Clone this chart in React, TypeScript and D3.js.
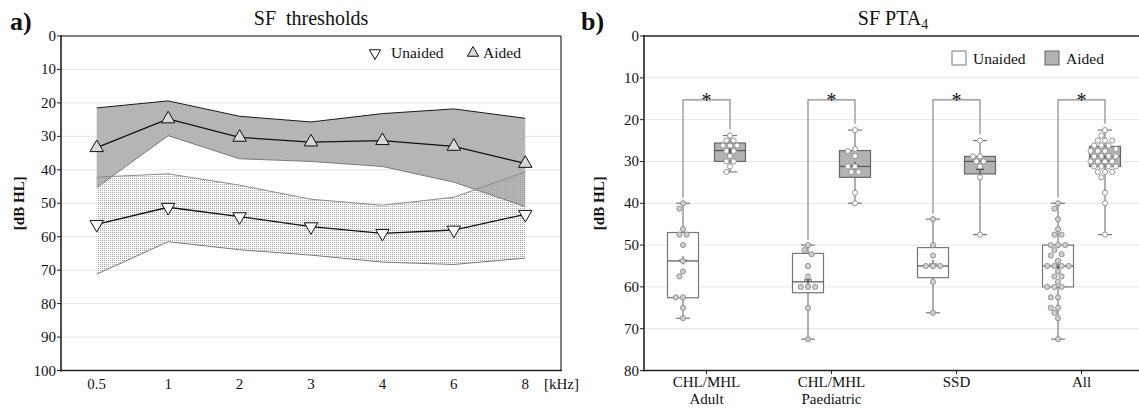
import React, { useEffect, useRef } from "react";
import * as d3 from "d3";

// ---- panel a) SF thresholds ----
const freqs = ["0.5", "1", "2", "3", "4", "6", "8"];
const aidedMean = [33.4, 24.8, 30.3, 31.7, 31.3, 33.0, 38.1];
const aidedUpper = [21.5, 19.4, 24.0, 25.7, 23.2, 21.8, 24.6];
const aidedLower = [45.3, 29.8, 36.7, 37.5, 39.0, 43.7, 51.0];
const unaidedMean = [56.3, 51.2, 54.0, 57.0, 59.0, 58.0, 53.3];
const unaidedUpper = [42.2, 41.2, 44.6, 48.8, 50.6, 48.2, 40.6];
const unaidedLower = [71.2, 61.5, 63.9, 65.5, 67.6, 68.3, 66.4];
const yTicksA = [0, 10, 20, 30, 40, 50, 60, 70, 80, 90, 100];

// ---- panel b) SF PTA4 ----
const groups = ["Adult", "Paediatric", "SSD", "All"];
const groupLabels = [["CHL/MHL", "Adult"], ["CHL/MHL", "Paediatric"], ["SSD"], ["All"]];
const adultUnaided = [40, 41.3, 46.2, 47.5, 47.5, 50, 53.8, 56.3, 57.5, 62.5, 62.5, 65, 67.5];
const paedUnaided = [50, 51.2, 52.2, 55, 57.5, 60, 60, 60, 65, 72.5];
const ssdUnaided = [43.8, 50, 52.5, 55, 55, 55, 58.8, 66.2];
const adultAided = [23.8, 25, 25, 26.2, 26.2, 26.2, 27.5, 27.5, 28.7, 30, 30, 31.2, 32.5];
const paedAided = [22.5, 27, 27.5, 28.7, 31.2, 31.2, 32.5, 32.5, 37.5, 40];
const ssdAided = [25, 28.8, 28.8, 30, 30, 31.2, 33.8, 47.5];
const unaidedPoints = [adultUnaided, paedUnaided, ssdUnaided, [...adultUnaided, ...paedUnaided, ...ssdUnaided]];
const aidedPoints = [adultAided, paedAided, ssdAided, [...adultAided, ...paedAided, ...ssdAided]];
const unaidedQ1 = [47, 52, 50.6, 50];
const unaidedMed = [53.8, 58.8, 55, 55];
const unaidedQ3 = [62.6, 61.4, 57.8, 60];
const aidedQ1 = [25.6, 27.4, 28.8, 26.4];
const aidedMed = [27.4, 31.2, 30, 28.8];
const aidedQ3 = [30, 33.8, 33, 31.2];
const bracketLevel = 15.3;
const yTicksB = [0, 10, 20, 30, 40, 50, 60, 70, 80];

const FONT = "Liberation Serif, DejaVu Serif, serif";

export default function App() {
  const svgRef = useRef<SVGSVGElement>(null);

  useEffect(() => {
    const svg = d3.select(svgRef.current);
    svg.selectAll("*").remove();
    svg.attr("font-family", FONT);

    const defs = svg.append("defs");
    const pat = defs.append("pattern")
      .attr("id", "dots")
      .attr("width", 2).attr("height", 2)
      .attr("patternUnits", "userSpaceOnUse");
    pat.append("rect").attr("x", 0).attr("y", 0).attr("width", 1).attr("height", 1).attr("fill", "#a2a2a2");

    // ================= Panel a =================
    const xA = d3.scaleBand().domain(freqs).range([61, 561]);
    const yA = d3.scaleLinear().domain([0, 100]).range([36, 370.5]);
    const cx = (f: string) => (xA(f) as number) + xA.bandwidth() / 2;
    const gA = svg.append("g");

    // gridlines
    gA.selectAll(".grid").data(yTicksA.slice(1, -1)).enter().append("line")
      .attr("x1", 61).attr("x2", 561)
      .attr("y1", d => yA(d)).attr("y2", d => yA(d))
      .attr("stroke", "#e6e6e6").attr("stroke-width", 1);

    const idx = freqs.map((_, i) => i);
    const areaOf = (up: number[], lo: number[]) => d3.area<number>()
      .x(i => cx(freqs[i])).y0(i => yA(lo[i])).y1(i => yA(up[i]));
    const lineOf = (v: number[]) => d3.line<number>().x(i => cx(freqs[i])).y(i => yA(v[i]));

    gA.append("path").attr("d", areaOf(aidedUpper, aidedLower)(idx)).attr("fill", "#b5b5b5");
    gA.append("path").attr("d", areaOf(unaidedUpper, unaidedLower)(idx)).attr("fill", "url(#dots)");

    gA.append("path").attr("d", lineOf(aidedLower)(idx)).attr("fill", "none").attr("stroke", "#7a7a7a").attr("stroke-width", 1);
    gA.append("path").attr("d", lineOf(unaidedUpper)(idx)).attr("fill", "none").attr("stroke", "#8a8a8a").attr("stroke-width", 1);
    gA.append("path").attr("d", lineOf(unaidedLower)(idx)).attr("fill", "none").attr("stroke", "#7a7a7a").attr("stroke-width", 1);
    gA.append("path").attr("d", lineOf(aidedUpper)(idx)).attr("fill", "none").attr("stroke", "#1a1a1a").attr("stroke-width", 1);

    gA.append("path").attr("d", lineOf(aidedMean)(idx)).attr("fill", "none").attr("stroke", "#111").attr("stroke-width", 1.3);
    gA.append("path").attr("d", lineOf(unaidedMean)(idx)).attr("fill", "none").attr("stroke", "#111").attr("stroke-width", 1.3);

    const tri = d3.symbol().type(d3.symbolTriangle).size(78)();
    gA.selectAll(".aid").data(idx).enter().append("path")
      .attr("d", tri)
      .attr("transform", i => `translate(${cx(freqs[i])},${yA(aidedMean[i])})`)
      .attr("fill", "#d9d9d9").attr("stroke", "#111").attr("stroke-width", 1);
    gA.selectAll(".unaid").data(idx).enter().append("path")
      .attr("d", tri)
      .attr("transform", i => `translate(${cx(freqs[i])},${yA(unaidedMean[i])}) rotate(180)`)
      .attr("fill", "#fff").attr("stroke", "#111").attr("stroke-width", 1);

    // frame
    gA.append("line").attr("x1", 61).attr("x2", 561).attr("y1", 36).attr("y2", 36).attr("stroke", "#555").attr("stroke-width", 1.5);
    gA.append("line").attr("x1", 561).attr("x2", 561).attr("y1", 36).attr("y2", 370.5).attr("stroke", "#555").attr("stroke-width", 1.5);
    gA.append("line").attr("x1", 61).attr("x2", 61).attr("y1", 35).attr("y2", 371.5).attr("stroke", "#222").attr("stroke-width", 1.6);
    gA.append("line").attr("x1", 60).attr("x2", 562).attr("y1", 370.5).attr("y2", 370.5).attr("stroke", "#222").attr("stroke-width", 1.6);

    // y axis ticks & labels
    gA.selectAll(".yt").data(yTicksA).enter().append("line")
      .attr("x1", 57).attr("x2", 61).attr("y1", d => yA(d)).attr("y2", d => yA(d)).attr("stroke", "#222");
    gA.selectAll(".yl").data(yTicksA).enter().append("text")
      .attr("x", 56).attr("y", d => yA(d) + 5)
      .attr("text-anchor", "end").attr("font-size", 15).attr("fill", "#111")
      .text(d => d);
    gA.selectAll(".xl").data(freqs).enter().append("text")
      .attr("x", d => cx(d)).attr("y", 389)
      .attr("text-anchor", "middle").attr("font-size", 15).attr("fill", "#111")
      .text(d => d);
    gA.append("text").attr("x", 544).attr("y", 389).attr("font-size", 15).attr("fill", "#111").text("[kHz]");
    gA.append("text")
      .attr("transform", `translate(24,${yA(50)}) rotate(-90)`)
      .attr("text-anchor", "middle").attr("font-size", 15).attr("font-weight", "bold").attr("fill", "#111")
      .text("[dB HL]");
    gA.append("text").attr("x", 311).attr("y", 25).attr("text-anchor", "middle").attr("font-size", 20).attr("fill", "#111")
      .attr("xml:space", "preserve").style("white-space", "pre").text("SF  thresholds");
    gA.append("text").attr("x", 10).attr("y", 30).attr("font-size", 26).attr("font-weight", "bold").attr("fill", "#111").text("a)");

    // legend a
    const triL = d3.symbol().type(d3.symbolTriangle).size(55)();
    gA.append("path").attr("d", triL).attr("transform", "translate(375,53) rotate(180)")
      .attr("fill", "#fff").attr("stroke", "#111");
    gA.append("text").attr("x", 391).attr("y", 58).attr("font-size", 15.5).attr("fill", "#111").text("Unaided");
    gA.append("path").attr("d", triL).attr("transform", "translate(473,53)")
      .attr("fill", "#d9d9d9").attr("stroke", "#111");
    gA.append("text").attr("x", 483).attr("y", 58).attr("font-size", 15.5).attr("fill", "#111").text("Aided");

    // ================= Panel b =================
    const xB = d3.scaleBand().domain(groups).range([644, 1144]);
    const yB = d3.scaleLinear().domain([0, 80]).range([36, 370.5]);
    const gc = (i: number) => (xB(groups[i]) as number) + xB.bandwidth() / 2;
    const off = 23.5;
    const boxW = 31;
    const gB = svg.append("g");

    gB.selectAll(".grid").data(yTicksB.slice(1, -1)).enter().append("line")
      .attr("x1", 644).attr("x2", 1144)
      .attr("y1", d => yB(d)).attr("y2", d => yB(d))
      .attr("stroke", "#e6e6e6").attr("stroke-width", 1);

    // beeswarm offsets
    const swarm = (vals: number[]) => {
      const minD = 6.0, step = 3.6;
      const placed: { x: number; y: number; v: number }[] = [];
      [...vals].sort((a, b) => a - b).forEach(v => {
        const y = yB(v);
        for (let k = 0; k < 40; k++) {
          const o = k === 0 ? 0 : (k % 2 ? -1 : 1) * Math.ceil(k / 2) * step;
          if (placed.every(p => Math.hypot(p.x - o, p.y - y) >= minD)) {
            placed.push({ x: o, y, v });
            break;
          }
        }
      });
      return placed;
    };

    const drawBox = (center: number, pts: number[], q1: number, med: number, q3: number, aided: boolean) => {
      const [lo, hi] = d3.extent(pts) as [number, number];
      const stroke = aided ? "#666" : "#777";
      gB.append("line").attr("x1", center).attr("x2", center).attr("y1", yB(lo)).attr("y2", yB(hi))
        .attr("stroke", "#7a7a7a").attr("stroke-width", 1.2);
      [lo, hi].forEach(v => gB.append("line")
        .attr("x1", center - 7).attr("x2", center + 7).attr("y1", yB(v)).attr("y2", yB(v))
        .attr("stroke", "#7a7a7a").attr("stroke-width", 1.2));
      gB.append("rect").attr("x", center - boxW / 2).attr("y", yB(q1)).attr("width", boxW).attr("height", yB(q3) - yB(q1))
        .attr("fill", aided ? "#b3b3b3" : "#fff").attr("stroke", stroke).attr("stroke-width", 1.2);
      gB.append("line").attr("x1", center - boxW / 2).attr("x2", center + boxW / 2).attr("y1", yB(med)).attr("y2", yB(med))
        .attr("stroke", "#555").attr("stroke-width", 1.2);
      const m = d3.mean(pts) as number;
      gB.append("path").attr("d", `M${center - 4},${yB(m)}H${center + 4}M${center},${yB(m) - 4}V${yB(m) + 4}`)
        .attr("stroke", "#333").attr("stroke-width", 1);
      gB.selectAll(null).data(swarm(pts)).enter().append("circle")
        .attr("cx", d => center + d.x).attr("cy", d => d.y).attr("r", 2.6)
        .attr("fill", aided ? "#fff" : "#cfcfcf").attr("stroke", "#8c8c8c").attr("stroke-width", 0.9);
    };

    groups.forEach((_, i) => {
      const cu = gc(i) - off, ca = gc(i) + off;
      drawBox(cu, unaidedPoints[i], unaidedQ1[i], unaidedMed[i], unaidedQ3[i], false);
      drawBox(ca, aidedPoints[i], aidedQ1[i], aidedMed[i], aidedQ3[i], true);
      const uTop = d3.min(unaidedPoints[i]) as number;
      const aTop = d3.min(aidedPoints[i]) as number;
      gB.append("path")
        .attr("d", `M${cu},${yB(uTop - 1.3)}V${yB(bracketLevel)}H${ca}V${yB(aTop - 1.5)}`)
        .attr("fill", "none").attr("stroke", "#8a8a8a").attr("stroke-width", 1.2);
      gB.append("text").attr("x", gc(i)).attr("y", yB(bracketLevel) + 7)
        .attr("text-anchor", "middle").attr("font-size", 20).attr("fill", "#111").text("*");
    });

    // frame
    gB.append("line").attr("x1", 644).attr("x2", 1144).attr("y1", 36).attr("y2", 36).attr("stroke", "#222").attr("stroke-width", 1.5);
    gB.append("line").attr("x1", 644).attr("x2", 644).attr("y1", 35).attr("y2", 371.5).attr("stroke", "#222").attr("stroke-width", 1.6);
    gB.append("line").attr("x1", 643).attr("x2", 1144).attr("y1", 370.5).attr("y2", 370.5).attr("stroke", "#222").attr("stroke-width", 1.6);

    gB.selectAll(".yt").data(yTicksB).enter().append("line")
      .attr("x1", 640).attr("x2", 644).attr("y1", d => yB(d)).attr("y2", d => yB(d)).attr("stroke", "#222");
    gB.selectAll(".yl").data(yTicksB).enter().append("text")
      .attr("x", 639).attr("y", d => yB(d) + 5)
      .attr("text-anchor", "end").attr("font-size", 15).attr("fill", "#111")
      .text(d => d);
    groups.forEach((_, i) => {
      gB.append("line").attr("x1", gc(i)).attr("x2", gc(i)).attr("y1", 370.5).attr("y2", 374).attr("stroke", "#222");
      groupLabels[i].forEach((t, j) => gB.append("text")
        .attr("x", gc(i)).attr("y", 387 + j * 16.5)
        .attr("text-anchor", "middle").attr("font-size", 15).attr("fill", "#111").text(t));
    });
    gB.append("text")
      .attr("transform", `translate(604,${yB(40)}) rotate(-90)`)
      .attr("text-anchor", "middle").attr("font-size", 15).attr("font-weight", "bold").attr("fill", "#111")
      .text("[dB HL]");
    const title = gB.append("text").attr("x", 893).attr("y", 25).attr("text-anchor", "middle").attr("font-size", 20).attr("fill", "#111");
    title.append("tspan").text("SF PTA");
    title.append("tspan").attr("font-size", 14).attr("dy", 4).text("4");
    gB.append("text").attr("x", 581).attr("y", 30).attr("font-size", 26).attr("font-weight", "bold").attr("fill", "#111").text("b)");

    // legend b
    gB.append("rect").attr("x", 952).attr("y", 51).attr("width", 14).attr("height", 14)
      .attr("fill", "#fff").attr("stroke", "#777");
    gB.append("text").attr("x", 973).attr("y", 64).attr("font-size", 15.5).attr("fill", "#111").text("Unaided");
    gB.append("rect").attr("x", 1045).attr("y", 51).attr("width", 14).attr("height", 14)
      .attr("fill", "#b3b3b3").attr("stroke", "#666");
    gB.append("text").attr("x", 1066).attr("y", 64).attr("font-size", 15.5).attr("fill", "#111").text("Aided");
  }, []);

  return (
    <svg ref={svgRef} width={1139} height={408}
      style={{ position: "absolute", left: 0, top: 0, background: "#fff" }} />
  );
}
